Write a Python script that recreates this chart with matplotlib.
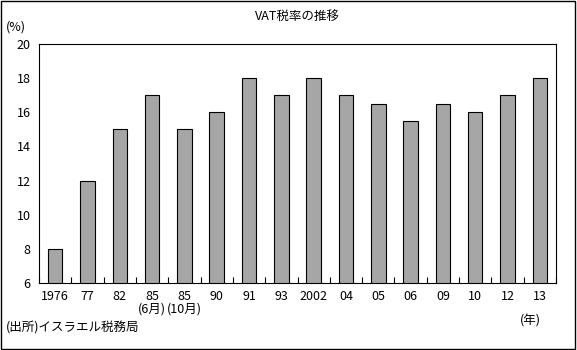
import matplotlib
matplotlib.use('Agg')
import matplotlib.pyplot as plt
from matplotlib.patches import Rectangle
import numpy as np

plt.rcParams['font.family'] = ['Noto Sans CJK JP', 'DejaVu Sans']

years = ['1976', '77', '82', '85\n(6月)', '85\n(10月)', '90', '91', '93', '2002',
         '04', '05', '06', '09', '10', '12', '13']
rates = [8, 12, 15, 17, 15, 16, 18, 17, 18, 17, 16.5, 15.5, 16.5, 16, 17, 18]

fig = plt.figure(figsize=(5.77, 3.5), dpi=100)
ax = fig.add_axes([39/577, 1 - 283/350, (556-39)/577, (283-44)/350])

x = np.arange(len(rates))
ax.bar(x, rates, width=0.45, color='#a6a6a6', edgecolor='black', linewidth=0.8)

ax.set_xlim(-0.5, len(rates) - 0.5)
ax.set_ylim(6, 20)
ax.set_yticks(range(6, 21, 2))
ax.tick_params(axis='y', length=0, labelsize=9, pad=6)

ax.set_xticks(x)
ax.set_xticklabels(years, fontsize=9, linespacing=1.0)
ax.tick_params(axis='x', length=0, pad=5)
# small boundary ticks pointing up from the bottom
ax.set_xticks(np.arange(-0.5, len(rates), 1), minor=True)
ax.tick_params(axis='x', which='minor', direction='in', length=4, width=0.8)

for s in ax.spines.values():
    s.set_linewidth(0.8)

fig.text(297/577, 1 - 17/350, 'VAT税率の推移', ha='center', va='center', fontsize=9)
fig.text(6/577, 1 - 27/350, '(%)', ha='left', va='center', fontsize=9)
fig.text(520/577, 1 - 321/350, '(年)', ha='left', va='center', fontsize=9)
fig.text(6/577, 1 - 328/350, '(出所)イスラエル税務局', ha='left', va='center', fontsize=9)

fig.patches.append(Rectangle((0.002, 0.003), 0.994, 0.993, transform=fig.transFigure,
                             fill=False, edgecolor='black', linewidth=1))

fig.savefig('out.png', dpi=100)
